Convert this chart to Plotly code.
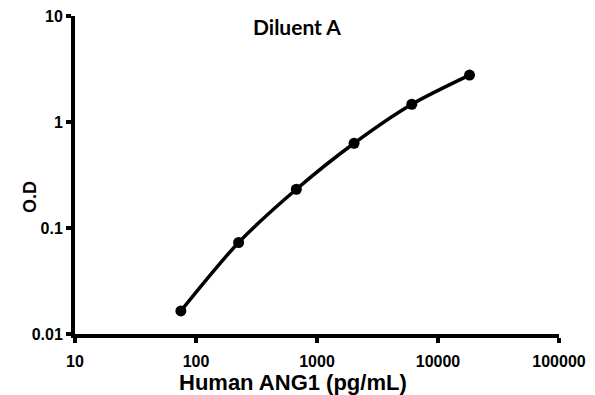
import plotly.graph_objects as go

conc = [75, 225, 675, 2025, 6075, 18225]
od = [0.0165, 0.073, 0.232, 0.63, 1.47, 2.77]
x_ticks = [10, 100, 1000, 10000, 100000]
x_tick_labels = ["10", "100", "1000", "10000", "100000"]
y_ticks = [0.01, 0.1, 1, 10]
y_tick_labels = ["0.01", "0.1", "1", "10"]

font_family = "Arial, Liberation Sans, sans-serif"

# page body has an 8px margin, so the figure is shrunk by it
PX0, PY0 = 75, 16      # plot area top-left in window px
PW, PH = 484, 318      # plot area size


def px_x(x):
    return (x - PX0) / PW


def px_y(y):
    return 1 - (y - PY0) / PH


fig = go.Figure()
fig.add_trace(go.Scatter(
    x=conc, y=od, mode="lines+markers",
    line=dict(color="black", width=3.5, shape="spline", smoothing=0.8),
    marker=dict(color="black", size=11),
    showlegend=False,
))

fig.update_layout(
    width=587, height=387,
    margin=dict(l=67, r=36, t=8, b=61, autoexpand=False),
    paper_bgcolor="white", plot_bgcolor="white",
    font=dict(family=font_family, color="black"),
    annotations=[
        dict(text="<b>Diluent A</b>", x=px_x(297), y=px_y(26),
             xref="paper", yref="paper", showarrow=False,
             font=dict(size=21, family="Lato, Open Sans, sans-serif", color="black"),
             xanchor="center", yanchor="middle"),
        dict(text="<b>Human ANG1 (pg/mL)</b>", x=px_x(293), y=px_y(382),
             xref="paper", yref="paper", showarrow=False,
             font=dict(size=22, family=font_family, color="black"),
             xanchor="center", yanchor="middle"),
        dict(text="<b>O.D</b>", x=px_x(30), y=px_y(197), textangle=-90,
             xref="paper", yref="paper", showarrow=False,
             font=dict(size=18, family=font_family, color="black"),
             xanchor="center", yanchor="middle"),
    ],
)

fig.update_xaxes(
    type="log", range=[1, 5], automargin=False,
    tickvals=x_ticks, ticktext=[f"<b>{t}</b>" for t in x_tick_labels],
    showline=True, linecolor="black", linewidth=4,
    ticks="outside", ticklen=5, tickwidth=4, tickcolor="black",
    showgrid=False, zeroline=False, tickfont=dict(size=16),
    ticklabelstandoff=5, ticklabeloverflow="allow",
)
fig.update_yaxes(
    type="log", range=[-2, 1], automargin=False,
    tickvals=y_ticks, ticktext=[f"<b>{t}</b>" for t in y_tick_labels],
    showline=True, linecolor="black", linewidth=4,
    ticks="outside", ticklen=5, tickwidth=4, tickcolor="black",
    showgrid=False, zeroline=False, tickfont=dict(size=16),
    ticklabeloverflow="allow",
)

fig.write_html("out.html")
